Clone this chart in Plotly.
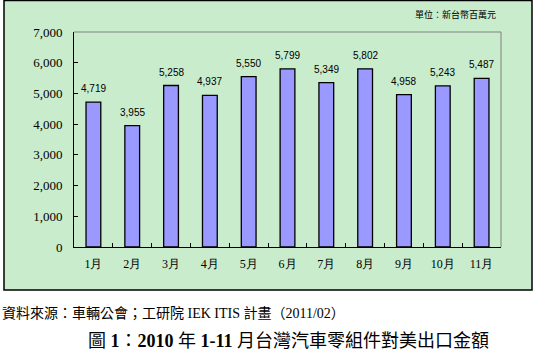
import plotly.graph_objects as go

months = ["1月", "2月", "3月", "4月", "5月", "6月", "7月", "8月", "9月", "10月", "11月"]
values = [4719, 3955, 5258, 4937, 5550, 5799, 5349, 5802, 4958, 5243, 5487]
y_ticks = [0, 1000, 2000, 3000, 4000, 5000, 6000, 7000]
y_ticklabels = ["0", "1,000", "2,000", "3,000", "4,000", "5,000", "6,000", "7,000"]

W, H = 533, 352
L, R, T, B = 74, 32, 32, 105
pw, ph = W - L - R, H - T - B

def px(x):
    return (x - L) / pw

def py(y):
    return (H - B - y) / ph

serif = "Times New Roman, Liberation Serif, serif"
narrow = "Liberation Sans Narrow, Arial Narrow, sans-serif"

fig = go.Figure()
fig.add_trace(go.Bar(
    x=months, y=values,
    marker=dict(color="#9999FF", line=dict(color="#000000", width=1.3)),
    width=0.38,
    cliponaxis=False,
))

annos = []
for m, v in zip(months, values):
    annos.append(dict(text=f"{v:,}", x=m, y=v, xref="x", yref="y", yanchor="bottom",
                      yshift=6, showarrow=False,
                      font=dict(family=narrow, size=10, color="#000")))

annos += [
    dict(text="單位：新台幣百萬元", xref="paper", yref="paper",
         x=px(498), y=py(15), xanchor="right", yanchor="middle", showarrow=False,
         font=dict(family="Noto Sans CJK TC", size=9, color="#000")),
    dict(text="資料來源：車輛公會；工研院 IEK ITIS 計畫（2011/02）", xref="paper", yref="paper",
         x=px(0), y=py(313), xanchor="left", yanchor="middle", showarrow=False,
         font=dict(family="Times New Roman, Liberation Serif, Noto Sans CJK TC", size=14, color="#000")),
    dict(text="圖 <b>1</b>：<b>2010</b> 年 <b>1-11</b> 月台灣汽車零組件對美出口金額", xref="paper", yref="paper",
         x=px(288), y=py(341), xanchor="center", yanchor="middle", showarrow=False,
         font=dict(family="Times New Roman, Liberation Serif, Noto Sans CJK TC", size=18, color="#000")),
]

fig.update_layout(
    width=W, height=H,
    margin=dict(l=L, r=R, t=T, b=B),
    paper_bgcolor="white",
    plot_bgcolor="rgba(0,0,0,0)",
    showlegend=False,
    font=dict(family=serif, size=12, color="#000"),
    xaxis=dict(
        type="category", showgrid=False, showline=True, linecolor="#000", linewidth=1,
        ticks="inside", tickson="boundaries", ticklen=4, tickcolor="#000",
        tickfont=dict(family=serif, size=12), ticklabelstandoff=6,
    ),
    yaxis=dict(
        range=[0, 7000], tickvals=y_ticks, ticktext=y_ticklabels,
        showgrid=False, showline=True, linecolor="#000", linewidth=1,
        ticks="inside", ticklen=4, tickcolor="#000",
        tickfont=dict(family=serif, size=13), ticklabelstandoff=8,
        zeroline=False,
    ),
    bargap=0.6,
    shapes=[
        dict(type="rect", xref="paper", yref="paper",
             x0=px(4), x1=px(532), y0=py(290), y1=py(0.5),
             fillcolor="#C8ECCC", line=dict(color="#000", width=1.5), layer="below"),
        dict(type="line", xref="paper", yref="paper", x0=0, x1=1, y0=1, y1=1,
             line=dict(color="#808080", width=1)),
        dict(type="line", xref="paper", yref="paper", x0=1, x1=1, y0=0, y1=1,
             line=dict(color="#808080", width=1)),
    ],
    annotations=annos,
)

fig.write_html("out.html")
